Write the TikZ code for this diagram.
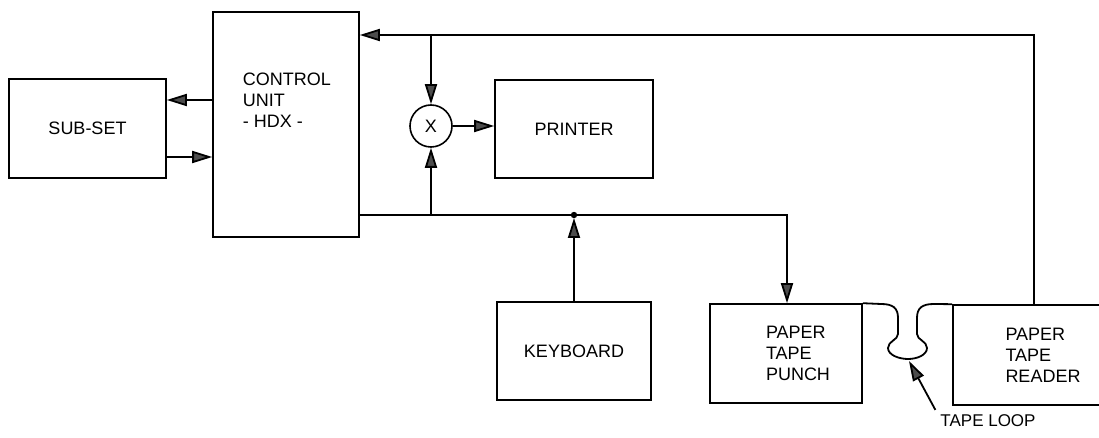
\documentclass[tikz,border=0pt]{standalone}
\usepackage{fontspec}
\setmainfont{Liberation Sans}
\usetikzlibrary{arrows.meta}

\begin{document}
\begin{tikzpicture}[x=0.5pt,y=-0.5pt,
  box/.style={draw=black, line width=0.8pt, rectangle, inner sep=0pt,
    font=\fontsize{9}{10.5}\selectfont, align=left},
  arr/.style={line width=0.9pt, -{Triangle[length=10pt, width=6pt, fill=black!70]}},
  wire/.style={line width=0.9pt}]
\useasboundingbox (0,0) rectangle (1099,438);
\clip (0,0) rectangle (1099,438);
\node[box, minimum width=78.5pt, minimum height=49.5pt] (subset) at (87.5,128.5) {SUB-SET};
\node[box, minimum width=73pt, minimum height=112.5pt] (cu) at (286,124.5) {};
\node[font=\fontsize{9}{10.5}\selectfont, align=left] (cutxt) at (287,100) {CONTROL\\UNIT\\- HDX -};
\node[draw=black, line width=0.8pt, circle, minimum size=21pt, inner sep=0pt,
  font=\fontsize{9}{10.5}\selectfont] (mix) at (431,126) {X};
\node[box, minimum width=79pt, minimum height=49pt] (printer) at (574,129) {PRINTER};
\node[box, minimum width=77pt, minimum height=49pt] (kbd) at (574,351) {KEYBOARD};
\node[box, minimum width=76pt, minimum height=49.5pt] (punch) at (786,353.5) {};
\node[font=\fontsize{9}{10.5}\selectfont, align=left] (punchtxt) at (798,353) {PAPER\\TAPE\\PUNCH};
\node[box, minimum width=90pt, minimum height=50pt] (reader) at (1043,355) {PAPER\\TAPE\\READER};
\node[font=\fontsize{8.5}{9}\selectfont] (looplbl) at (988,421) {TAPE LOOP};
\coordinate (ret) at (1034,35);
\coordinate (bus) at (787,215);
\coordinate (loopbot) at (909,361);
% sub-set link
\draw[arr] (cu.west |- 0,100) -- (subset.east |- 0,100);
\draw[arr] (subset.east |- 0,157) -- (cu.west |- 0,157);
% return from reader
\draw[arr] (reader.north -| ret) -- (ret) -- (cu.east |- ret);
\draw[arr] (mix.north |- ret) -- (mix.north);
\draw[arr] (mix.east) -- (printer.west |- mix.east);
% output bus
\draw[arr] (cu.east |- bus) -- (bus) -- (punch.north -| bus);
\draw[arr] (mix.south |- bus) -- (mix.south);
\fill (kbd.north |- bus) circle (1.6pt);
\draw[arr, shorten >=1.5pt] (kbd.north) -- (kbd.north |- bus);
% tape loop
\draw[wire] (punch.north east) -- (881,304) .. controls (893,304) and (898,308) .. (898,318)
  -- (898,334) .. controls (898,340) and (888,341) .. (888,348)
  .. controls (888,355) and (899,359) .. (908,359)
  .. controls (917,359) and (927,355) .. (927,348)
  .. controls (927,341) and (917,340) .. (917,334)
  -- (917,318) .. controls (917,308) and (922,304) .. (934,304) -- (reader.north west);
\draw[arr] ([xshift=1pt,yshift=-1pt]looplbl.north west) -- (loopbot);
\end{tikzpicture}
\end{document}
